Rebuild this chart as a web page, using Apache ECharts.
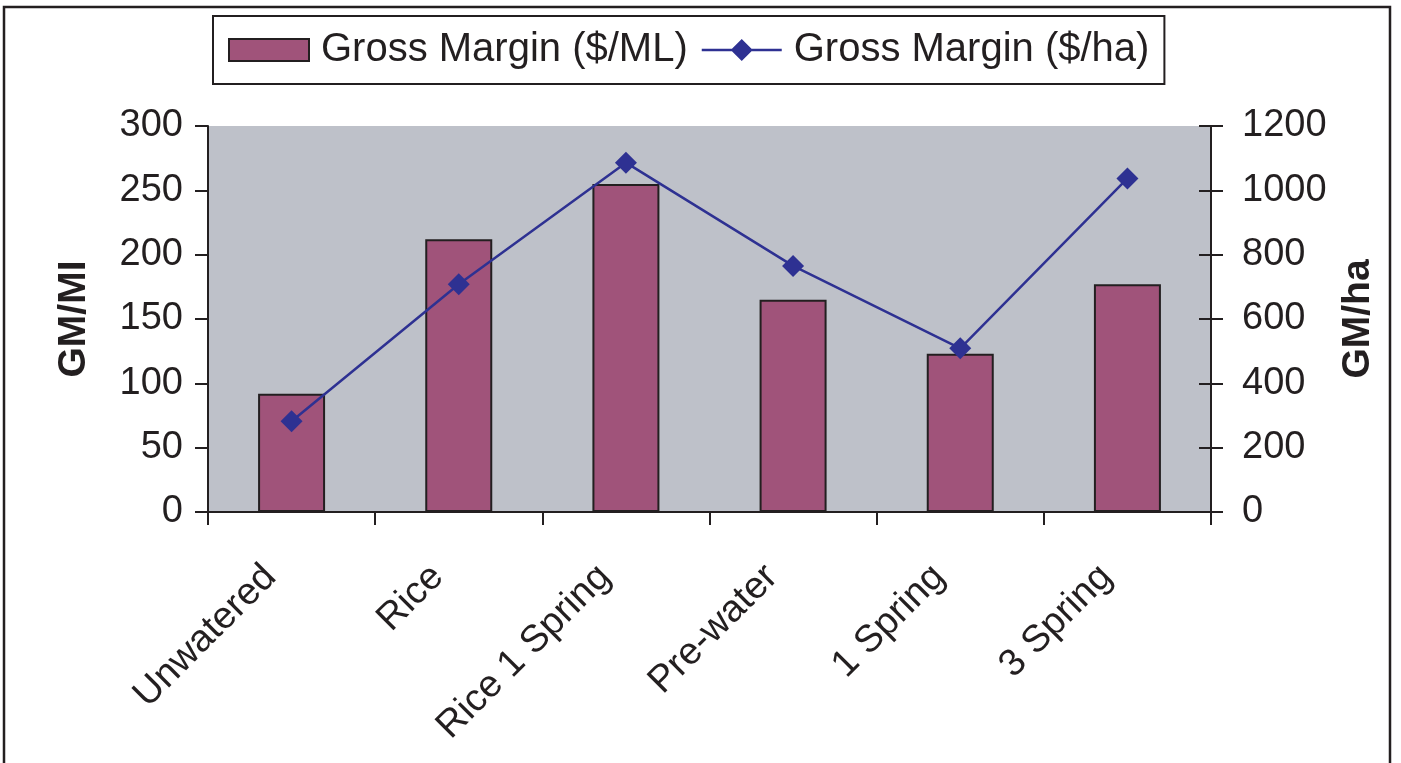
<!DOCTYPE html>
<html>
<head>
<meta charset="utf-8">
<script src="https://cdn.jsdelivr.net/npm/echarts@6/dist/echarts.min.js"></script>
<style>
html,body{margin:0;padding:0;background:#fff;}
#c{width:1401px;height:763px;}
</style>
</head>
<body>
<div id="c"></div>
<script>
var categories = ['Unwatered', 'Rice', 'Rice 1 Spring', 'Pre-water', '1 Spring', '3 Spring'];
var gmPerML = [92, 212, 255, 165, 123, 177];
var gmPerHa = [282, 708, 1086, 765, 509, 1037];
var leftTicks = {min: 0, max: 300, interval: 50};
var rightTicks = {min: 0, max: 1200, interval: 200};

var FONT = '"Liberation Sans", Arial, Helvetica, sans-serif';
var INK = '#231F20';
var LINE_ICON = 'path://M0,10 L34,10 L45,-1 L56,10 L90,10 L90,12.6 L56,12.6 L45,23.6 L34,12.6 L0,12.6 Z';

var chart = echarts.init(document.getElementById('c'), null, {renderer: 'canvas'});
chart.setOption({
  animation: false,
  backgroundColor: '#fff',
  textStyle: {fontFamily: FONT, color: INK},
  graphic: [{
    type: 'rect', silent: true, z: 0,
    shape: {x: 4, y: 7, width: 1386, height: 800},
    style: {fill: 'none', stroke: INK, lineWidth: 2.5}
  }],
  legend: {
    left: 213, top: 16,
    padding: [14, 15, 14, 15],
    borderColor: INK, borderWidth: 2, backgroundColor: '#fff',
    itemWidth: 80, itemHeight: 22, itemGap: 14,
    textStyle: {fontSize: 40, fontFamily: FONT, color: INK, padding: [0, 0, 0, 7]},
    data: [
      {name: 'Gross Margin ($/ML)', icon: 'rect'},
      {name: 'Gross Margin ($/ha)', icon: LINE_ICON, itemStyle: {color: '#2E3192', borderWidth: 0}}
    ]
  },
  grid: {
    left: 208, right: 190, top: 126, bottom: 251,
    show: true, backgroundColor: '#BEC1C9', borderWidth: 0
  },
  xAxis: {
    type: 'category', data: categories, boundaryGap: true,
    axisLine: {lineStyle: {color: INK, width: 2}},
    axisTick: {show: true, length: 13, lineStyle: {color: INK, width: 2}, alignWithLabel: false},
    axisLabel: {
      rotate: 45, fontSize: 38, color: INK, fontFamily: FONT, margin: 38,
      interval: 0, padding: [0, 30, 0, 0]
    },
    splitLine: {show: false}
  },
  yAxis: [{
    type: 'value', position: 'left',
    min: leftTicks.min, max: leftTicks.max, interval: leftTicks.interval,
    name: 'GM/MI', nameLocation: 'middle', nameRotate: 90, nameGap: 114,
    nameTextStyle: {fontSize: 39, fontWeight: 'bold', color: INK, fontFamily: FONT},
    axisLine: {show: true, lineStyle: {color: INK, width: 2}},
    axisTick: {show: true, length: 13, lineStyle: {color: INK, width: 2}},
    axisLabel: {fontSize: 38, color: INK, fontFamily: FONT, margin: 25},
    splitLine: {show: false}
  }, {
    type: 'value', position: 'right',
    min: rightTicks.min, max: rightTicks.max, interval: rightTicks.interval,
    name: 'GM/ha', nameLocation: 'middle', nameRotate: 90, nameGap: 128,
    nameTextStyle: {fontSize: 39, fontWeight: 'bold', color: INK, fontFamily: FONT},
    axisLine: {show: true, lineStyle: {color: INK, width: 2}},
    axisTick: {show: true, length: 12, lineStyle: {color: INK, width: 2}},
    axisLabel: {fontSize: 38, color: INK, fontFamily: FONT, margin: 31,
      formatter: function (v) { return String(v); }},
    splitLine: {show: false}
  }, {
    type: 'value', position: 'right',
    min: rightTicks.min, max: rightTicks.max, interval: rightTicks.interval,
    axisLine: {show: false},
    axisTick: {show: true, inside: true, length: 12, lineStyle: {color: INK, width: 2}},
    axisLabel: {show: false},
    splitLine: {show: false}
  }],
  series: [{
    name: 'Gross Margin ($/ML)', type: 'bar', yAxisIndex: 0,
    data: gmPerML, barWidth: 67,
    itemStyle: {color: '#A0537A', borderColor: INK, borderWidth: 2}
  }, {
    name: 'Gross Margin ($/ha)', type: 'line', yAxisIndex: 1,
    data: gmPerHa, symbol: 'diamond', symbolSize: 22,
    lineStyle: {color: '#2E3192', width: 2.5},
    itemStyle: {color: '#2E3192'}
  }]
});
</script>
</body>
</html>
